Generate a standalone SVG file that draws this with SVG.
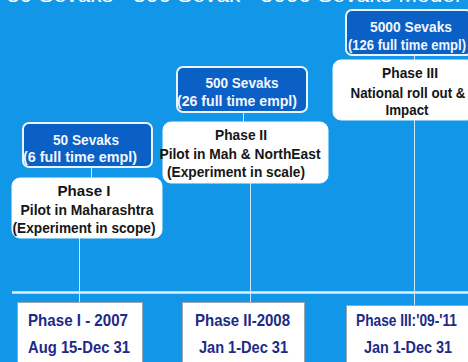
<svg xmlns="http://www.w3.org/2000/svg" width="468" height="362" viewBox="0 0 468 362">
<style>
.bg{fill:#1296E8}
.line{stroke:#CDE8FB;stroke-width:1;fill:none}
.axis{stroke:#DDF0FF;stroke-width:2.5;fill:none}
.blue{fill:#0A60C4;stroke:#EAF4FF;stroke-width:2}
.white{fill:#FFFFFF;stroke:#F4F8FC;stroke-width:1}
.date{fill:#FFFFFF;stroke:#9AA6B4;stroke-width:1}
.bt{font-family:"Liberation Sans",Arial,sans-serif;font-weight:bold;font-size:15px;fill:#F2F7FF;text-anchor:middle}
.wt{font-family:"Liberation Sans",Arial,sans-serif;font-weight:bold;font-size:15px;fill:#161616;text-anchor:middle}
.dt{font-family:"Liberation Sans",Arial,sans-serif;font-weight:bold;font-size:17px;fill:#1C2A88;text-anchor:middle}
.title{font-family:"Liberation Sans",Arial,sans-serif;font-size:21px;fill:#FFFFFF}
</style>
<rect class="bg" x="0" y="0" width="468" height="362"/>
<text class="title" x="7" y="2" textLength="453" lengthAdjust="spacingAndGlyphs">50 Sevaks - 500 Sevak - 5000 Sevaks Model</text>
<g id="connectors">
<line class="axis" x1="12" y1="292.5" x2="468" y2="292.5"/>
<line class="line" x1="79.5" y1="238" x2="79.5" y2="302"/>
<line class="line" x1="250.5" y1="183" x2="250.5" y2="302"/>
<line class="line" x1="414.5" y1="120" x2="414.5" y2="305"/>
<line class="line" x1="91.5" y1="167" x2="91.5" y2="178"/>
<line class="line" x1="243.5" y1="112" x2="243.5" y2="122"/>
<line class="line" x1="414.5" y1="46" x2="414.5" y2="60"/>
</g>
<g id="phase1-sevaks">
<rect class="blue" x="23" y="123" width="129" height="44" rx="6"/>
<text class="bt" x="86" y="145" textLength="66" lengthAdjust="spacingAndGlyphs">50 Sevaks</text>
<text class="bt" x="80" y="162" textLength="114" lengthAdjust="spacingAndGlyphs">(6 full time empl)</text>
</g>
<g id="phase1">
<rect class="white" x="12" y="178" width="150" height="60" rx="8"/>
<text class="wt" x="84" y="196" textLength="53" lengthAdjust="spacingAndGlyphs">Phase I</text>
<text class="wt" x="87" y="215" textLength="133" lengthAdjust="spacingAndGlyphs">Pilot in Maharashtra</text>
<text class="wt" x="84" y="233" textLength="143" lengthAdjust="spacingAndGlyphs">(Experiment in scope)</text>
</g>
<g id="phase2-sevaks">
<rect class="blue" x="177" y="67" width="130" height="45" rx="6"/>
<text class="bt" x="242" y="88" textLength="73" lengthAdjust="spacingAndGlyphs">500 Sevaks</text>
<text class="bt" x="237" y="106" textLength="120" lengthAdjust="spacingAndGlyphs">(26 full time empl)</text>
</g>
<g id="phase2">
<rect class="white" x="163" y="122" width="165" height="61" rx="8"/>
<text class="wt" x="241" y="140" textLength="52" lengthAdjust="spacingAndGlyphs">Phase II</text>
<text class="wt" x="240" y="159" textLength="161" lengthAdjust="spacingAndGlyphs">Pilot in Mah &amp; NorthEast</text>
<text class="wt" x="236" y="177" textLength="138" lengthAdjust="spacingAndGlyphs">(Experiment in scale)</text>
</g>
<g id="phase3-sevaks">
<rect class="blue" x="346" y="10" width="126" height="45" rx="6"/>
<text class="bt" x="411" y="32" textLength="82" lengthAdjust="spacingAndGlyphs">5000 Sevaks</text>
<text class="bt" x="407" y="50" textLength="118" lengthAdjust="spacingAndGlyphs">(126 full time empl)</text>
</g>
<g id="phase3">
<rect class="white" x="333" y="60" width="142" height="60" rx="8"/>
<text class="wt" x="410" y="78" textLength="56" lengthAdjust="spacingAndGlyphs">Phase III</text>
<text class="wt" x="408" y="98" textLength="115" lengthAdjust="spacingAndGlyphs">National roll out &amp;</text>
<text class="wt" x="407" y="115" textLength="43" lengthAdjust="spacingAndGlyphs">Impact</text>
</g>
<g id="date1">
<rect class="date" x="17.5" y="302.5" width="125" height="70"/>
<text class="dt" x="78" y="326" textLength="100" lengthAdjust="spacingAndGlyphs">Phase I - 2007</text>
<text class="dt" x="79" y="353" textLength="102" lengthAdjust="spacingAndGlyphs">Aug 15-Dec 31</text>
</g>
<g id="date2">
<rect class="date" x="182.5" y="302.5" width="122" height="70"/>
<text class="dt" x="242.5" y="326" textLength="95" lengthAdjust="spacingAndGlyphs">Phase II-2008</text>
<text class="dt" x="243.5" y="353" textLength="89" lengthAdjust="spacingAndGlyphs">Jan 1-Dec 31</text>
</g>
<g id="date3">
<rect class="date" x="346.5" y="305.5" width="125" height="70"/>
<text class="dt" x="406.5" y="326" textLength="101" lengthAdjust="spacingAndGlyphs">Phase III:'09-'11</text>
<text class="dt" x="408" y="353" textLength="88" lengthAdjust="spacingAndGlyphs">Jan 1-Dec 31</text>
</g>
</svg>
